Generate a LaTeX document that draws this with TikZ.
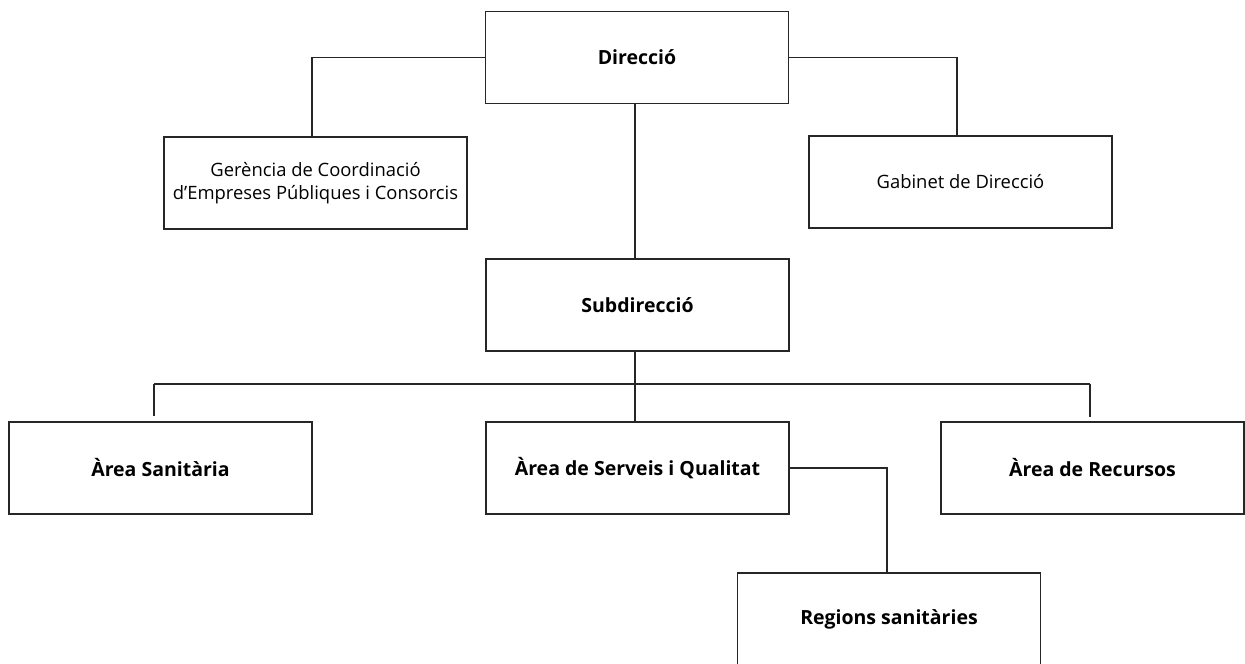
\documentclass[tikz,border=0pt]{standalone}
\usepackage{fontspec}
\setmainfont{Open Sans}
\begin{document}
\begin{tikzpicture}[x=1pt,y=-1pt,
  box/.style={draw=black!85, line width=1.3pt, minimum width=303pt, minimum height=92pt, inner sep=0pt, align=center, font=\fontsize{18.4}{22.5}\selectfont},
  boldbox/.style={box, font=\fontsize{19.5}{22.5}\selectfont\bfseries},
  link/.style={draw=black!85, line width=1.3pt}]
\useasboundingbox (0,0) rectangle (1245,664);
\node[boldbox] (dir) at (637,57.5) {Direcció};
\node[box] (ger) at (315.5,183) {Gerència de Coordinació\\d’Empreses Públiques i Consorcis};
\node[box] (gab) at (960.5,182) {Gabinet de Direcció};
\node[boldbox] (sub) at (637.5,305) {Subdirecció};
\node[boldbox] (san) at (160.5,468) {Àrea Sanitària};
\node[boldbox] (ser) at (637.5,468) {Àrea de Serveis i Qualitat};
\node[boldbox] (rec) at (1092.5,468) {Àrea de Recursos};
\node[boldbox] (reg) at (889,619) {Regions sanitàries};
\coordinate (gl) at (312,57.5);
\coordinate (gr) at (957,57.5);
\coordinate (vx) at (635,384);
\coordinate (bl) at (154,384);
\coordinate (br) at (1090,384);
\coordinate (rl) at (887,468);
\draw[link] (dir.west) -- (gl) -- (gl |- ger.north);
\draw[link] (dir.east) -- (gr) -- (gr |- gab.north);
\draw[link] (dir.south -| vx) -- (sub.north -| vx);
\draw[link] (sub.south -| vx) -- (ser.north -| vx);
\draw[link] (bl) -- (br);
\draw[link, shorten >=5pt] (bl) -- (bl |- san.north);
\draw[link, shorten >=4pt] (br) -- (br |- rec.north);
\draw[link] (ser.east) -- (rl) -- (rl |- reg.north);
\end{tikzpicture}
\end{document}
